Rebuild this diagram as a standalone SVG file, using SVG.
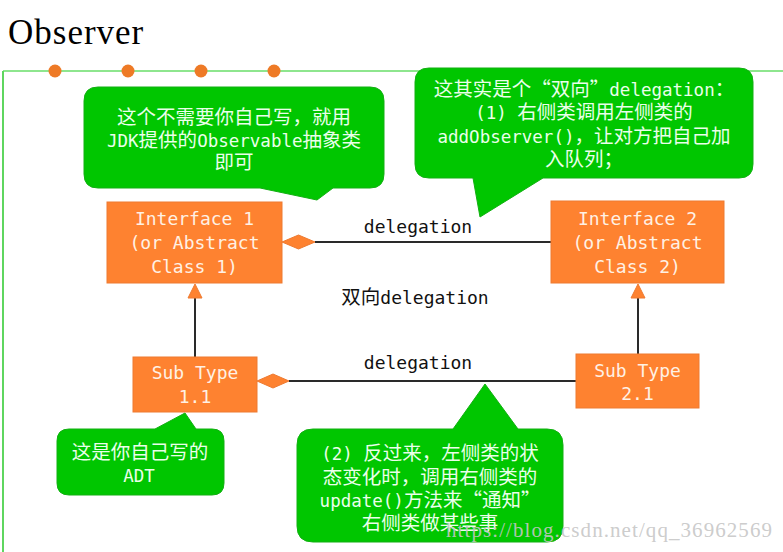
<svg xmlns="http://www.w3.org/2000/svg" width="783" height="552" viewBox="0 0 783 552">
<style>
.frameH{stroke:#8ee68e;stroke-width:2;fill:none}
.frameV{stroke:#5fd65f;stroke-width:2;fill:none}
.dot{fill:#ee7a26}
.box{fill:#fe8230;stroke:#ee7a30;stroke-width:1}
.bt{font-family:"DejaVu Sans Mono","Liberation Mono",monospace;font-size:18px;fill:#fff1e4;text-anchor:middle}
.call{fill:#00c600;stroke:#12b012;stroke-width:1}
.ct{font-family:"DejaVu Sans Mono","Noto Sans CJK SC",monospace;font-size:17.5px;fill:#eaffea;text-anchor:middle}
.c{font-family:"Noto Sans CJK SC",sans-serif;font-size:19.5px}
.ln{stroke:#2a2a2a;stroke-width:2;fill:none}
.dia{fill:#fe8230;stroke:#ee7a30;stroke-width:1}
.lbl{font-family:"DejaVu Sans Mono","Noto Sans CJK SC",monospace;font-size:18px;fill:#111;text-anchor:middle}
</style>
<rect width="783" height="552" fill="#ffffff"/>
<g id="title"><text x="8" y="44" font-family="Liberation Serif, serif" font-size="35" letter-spacing="1" fill="#000">Observer</text></g>
<g id="frame">
<path class="frameH" d="M3,71 H783"/>
<path class="frameV" d="M3,71 V552"/>
<circle class="dot" cx="55" cy="71" r="6.5"/>
<circle class="dot" cx="128" cy="71" r="6.5"/>
<circle class="dot" cx="201" cy="71" r="6.5"/>
<circle class="dot" cx="274" cy="71" r="6.5"/>
</g>
<g id="connectors">
<path class="ln" d="M315,242 H551"/>
<polygon class="dia" points="282,242 298.5,235 315,242 298.5,249"/>
<path class="ln" d="M289,381 H576"/>
<polygon class="dia" points="257,381 273,374 289,381 273,388"/>
<path class="ln" d="M195,298 V357"/>
<polygon class="dia" points="195,284 188,298 202,298"/>
<path class="ln" d="M638,298 V354"/>
<polygon class="dia" points="638,284 631,298 645,298"/>
<text class="lbl" x="418" y="233">delegation</text>
<text class="lbl" x="418" y="369">delegation</text>
<text class="lbl" x="415" y="304"><tspan class="c">双向</tspan>delegation</text>
</g>
<g id="interface1">
<rect class="box" x="107" y="202" width="175" height="81"/>
<text class="bt" x="194.5" y="225">Interface 1</text>
<text class="bt" x="194.5" y="249">(or Abstract</text>
<text class="bt" x="194.5" y="273">Class 1)</text>
</g>
<g id="interface2">
<rect class="box" x="551" y="201" width="173" height="82"/>
<text class="bt" x="637.5" y="225">Interface 2</text>
<text class="bt" x="637.5" y="249">(or Abstract</text>
<text class="bt" x="637.5" y="273">Class 2)</text>
</g>
<g id="subtype11">
<rect class="box" x="133" y="357" width="124" height="55"/>
<text class="bt" x="195" y="379">Sub Type</text>
<text class="bt" x="195" y="403">1.1</text>
</g>
<g id="subtype21">
<rect class="box" x="576" y="354" width="123" height="54"/>
<text class="bt" x="637.5" y="377">Sub Type</text>
<text class="bt" x="637.5" y="400">2.1</text>
</g>
<g id="callout1">
<path class="call" d="M98,87 H370 Q384,87 384,101 V174 Q384,188 370,188 H333 L317,200 L260,188 H98 Q84,188 84,174 V101 Q84,87 98,87 Z"/>
<text class="ct" x="234" y="124"><tspan class="c">这个不需要你自己写，就用</tspan></text>
<text class="ct" x="234" y="147">JDK<tspan class="c">提供的</tspan>Observable<tspan class="c">抽象类</tspan></text>
<text class="ct" x="234" y="169"><tspan class="c">即可</tspan></text>
</g>
<g id="callout2">
<path class="call" d="M429,68 H739 Q753,68 753,82 V164 Q753,178 739,178 H543 L480,217 L473,178 H429 Q415,178 415,164 V82 Q415,68 429,68 Z"/>
<text class="ct" x="584" y="96"><tspan class="c">这其实是个“双向”</tspan>delegation<tspan class="c">：</tspan></text>
<text class="ct" x="584" y="119">(1) <tspan class="c">右侧类调用左侧类的</tspan></text>
<text class="ct" x="584" y="143">addObserver()<tspan class="c">，让对方把自己加</tspan></text>
<text class="ct" x="584" y="166"><tspan class="c">入队列；</tspan></text>
</g>
<g id="callout3">
<path class="call" d="M69,429 H155 L185,413 L196,429 H212 Q224,429 224,441 V483 Q224,495 212,495 H69 Q57,495 57,483 V441 Q57,429 69,429 Z"/>
<text class="ct" x="140" y="459"><tspan class="c">这是你自己写的</tspan></text>
<text class="ct" x="139" y="482" font-family="Liberation Sans, sans-serif" font-size="17">ADT</text>
</g>
<g id="callout4">
<path class="call" d="M313,429 H453 L485,384 L518,429 H547 Q563,429 563,445 V526 Q563,542 547,542 H313 Q297,542 297,526 V445 Q297,429 313,429 Z"/>
<text class="ct" x="430" y="460">(2) <tspan class="c">反过来，左侧类的状</tspan></text>
<text class="ct" x="430" y="484"><tspan class="c">态变化时，调用右侧类的</tspan></text>
<text class="ct" x="430" y="507">update()<tspan class="c">方法来“通知”</tspan></text>
<text class="ct" x="430" y="530"><tspan class="c">右侧类做某些事</tspan></text>
</g>
<g id="watermark"><text x="446" y="537" font-family="Liberation Serif, serif" font-size="21" fill="#c6c6c6" fill-opacity="0.9" textLength="326" lengthAdjust="spacing">https://blog.csdn.net/qq_36962569</text></g>
</svg>
